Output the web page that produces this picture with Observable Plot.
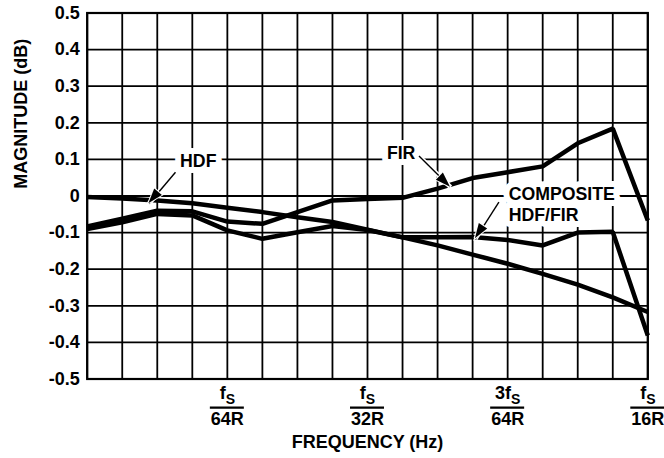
<!DOCTYPE html>
<html>
<head>
<meta charset="utf-8">
<script src="https://cdn.jsdelivr.net/npm/d3@7"></script>
<script src="https://cdn.jsdelivr.net/npm/@observablehq/plot@0.6"></script>
<style>
  html, body { margin: 0; padding: 0; background: #fff; }
  svg { display: block; }
</style>
</head>
<body>
<div id="chart"></div>
<script>
// Frequency index: each unit = fS/256R (gridline positions)
const freq = [0, 1, 2, 3, 4, 5, 6, 7, 8, 9, 10, 11, 12, 13, 14, 15, 16];
const hdf = [-0.003, -0.007, -0.012, -0.020, -0.032, -0.044, -0.058, -0.071, -0.092, -0.113, -0.135, -0.160, -0.185, -0.213, -0.242, -0.277, -0.317];
const fir = [-0.083, -0.062, -0.040, -0.042, -0.070, -0.076, -0.044, -0.012, -0.008, -0.005, 0.020, 0.049, 0.065, 0.081, 0.144, 0.184, -0.067];
const composite = [-0.090, -0.072, -0.049, -0.053, -0.094, -0.117, -0.099, -0.082, -0.093, -0.113, -0.113, -0.112, -0.120, -0.135, -0.100, -0.098, -0.381];

const yTicks = [0.5, 0.4, 0.3, 0.2, 0.1, 0, -0.1, -0.2, -0.3, -0.4, -0.5];
const yTickLabels = ["0.5", "0.4", "0.3", "0.2", "0.1", "0", "-0.1", "-0.2", "-0.3", "-0.4", "-0.5"];
const xTickValues = [4, 8, 12, 16];
const xTickNumerators = ["f", "f", "3f", "f"];
const xTickSubscripts = ["S", "S", "S", "S"];
const xTickDenominators = ["64R", "32R", "64R", "16R"];
const yTitle = "MAGNITUDE (dB)";
const xTitle = "FREQUENCY (Hz)";

const centeredLabels = [
  { text: "HDF", x: 3.17, y: 0.0945 },
  { text: "FIR", x: 8.96, y: 0.1175 }
];
const leftLabels = [
  { text: "COMPOSITE\nHDF/FIR", x: 12.03, y: -0.0208 }
];
const arrows = [
  { x1: 2.52, y1: 0.065, x2: 1.76, y2: -0.021 },
  { x1: 9.47, y1: 0.109, x2: 10.37, y2: 0.024 },
  { x1: 11.75, y1: -0.017, x2: 11.08, y2: -0.117 }
];

const rows = [];
[["HDF", hdf], ["FIR", fir], ["COMPOSITE", composite]].forEach(([name, vals]) => {
  vals.forEach((v, i) => rows.push({ series: name, f: freq[i], v }));
});

const FONT = "'Liberation Sans', Arial, Helvetica, sans-serif";

const chart = Plot.plot({
  width: 664,
  height: 458,
  marginLeft: 86.7,
  marginRight: 16.7,
  marginTop: 12.5,
  marginBottom: 79.5,
  style: { fontFamily: FONT, fontWeight: "bold", fontSize: "18px", background: "#fff", color: "#000" },
  x: { domain: [0, 16] },
  y: { domain: [-0.5, 0.5] },
  marks: [
    Plot.gridX(freq, { stroke: "#000", strokeOpacity: 1, strokeWidth: 1.8 }),
    Plot.gridY(yTicks, { stroke: "#000", strokeOpacity: 1, strokeWidth: 1.8 }),
    Plot.frame({ stroke: "#000", strokeWidth: 2.2 }),
    Plot.axisY(yTicks, {
      tickSize: 0, tickPadding: 7.4, label: null, fontSize: 18, fontWeight: "bold",
      tickFormat: d => yTickLabels[yTicks.indexOf(d)]
    }),
    Plot.axisX(xTickValues, {
      tickSize: 0, tickPadding: 33.7, label: null, fontSize: 18, fontWeight: "bold",
      tickFormat: d => xTickDenominators[xTickValues.indexOf(d)]
    }),
    Plot.text(xTickValues, {
      x: d => d, text: d => xTickNumerators[xTickValues.indexOf(d)],
      frameAnchor: "bottom", dy: 7.7, lineAnchor: "top", textAnchor: "middle",
      fontSize: 18, fontWeight: "bold"
    }),
    Plot.text([yTitle], {
      text: d => d, frameAnchor: "left", dx: -65.8, dy: -7.2, rotate: -90,
      lineAnchor: "middle", fontSize: 18, fontWeight: "bold"
    }),
    Plot.text([xTitle], {
      text: d => d, frameAnchor: "bottom", dy: 63.7,
      lineAnchor: "middle", fontSize: 18, fontWeight: "bold"
    }),
    Plot.text(centeredLabels, {
      x: "x", y: "y", text: "text", textAnchor: "middle", lineAnchor: "middle",
      fontSize: 17.7, fontWeight: "bold", fill: "#000", stroke: "#fff", strokeWidth: 12, strokeLinejoin: "round"
    }),
    Plot.text(leftLabels, {
      x: "x", y: "y", text: "text", textAnchor: "start", lineAnchor: "middle", lineHeight: 1.19,
      fontSize: 17.7, fontWeight: "bold", fill: "#000", stroke: "#fff", strokeWidth: 12, strokeLinejoin: "round"
    }),
    Plot.line(rows, {
      x: "f", y: "v", z: "series", stroke: "#000", strokeWidth: 4.5,
      strokeLinejoin: "miter", strokeLinecap: "butt"
    }),
    Plot.link(arrows, { x1: "x1", y1: "y1", x2: "x2", y2: "y2", stroke: "#fff", strokeWidth: 4.5 }),
    Plot.link(arrows, { x1: "x1", y1: "y1", x2: "x2", y2: "y2", stroke: "#000", strokeWidth: 1.4 })
  ]
});

// Post-processing with the chart's own scales: subscripts, fraction bars, filled arrowheads
const svg = d3.select(chart);
const sx = chart.scale("x");
const sy = chart.scale("y");

svg.selectAll("text").each(function () {
  const t = d3.select(this);
  const idx = xTickNumerators.indexOf(this.textContent);
  if (idx >= 0 && this.childElementCount === 0) {
    t.append("tspan").attr("font-size", 14).attr("dy", 5).text(xTickSubscripts[idx]);
  }
});

const bars = svg.append("g").attr("aria-label", "fraction-bars");
xTickValues.forEach(v => {
  const px = sx.apply(v);
  bars.append("line")
    .attr("x1", px - 17).attr("x2", px + 17)
    .attr("y1", 407.7).attr("y2", 407.7)
    .attr("stroke", "#000").attr("stroke-width", 2.2);
});

const heads = svg.append("g").attr("aria-label", "arrowheads");
arrows.forEach(a => {
  const x1 = sx.apply(a.x1), y1 = sy.apply(a.y1), x2 = sx.apply(a.x2), y2 = sy.apply(a.y2);
  const L = Math.hypot(x2 - x1, y2 - y1), ux = (x2 - x1) / L, uy = (y2 - y1) / L;
  const hl = 15, hw = 5;
  const bx = x2 - ux * hl, by = y2 - uy * hl;
  const pts = [[x2, y2], [bx - uy * hw, by + ux * hw], [bx + uy * hw, by - ux * hw]];
  heads.append("polygon")
    .attr("points", pts.map(p => p.join(",")).join(" "))
    .attr("fill", "#000").attr("stroke", "#fff").attr("stroke-width", 2)
    .attr("paint-order", "stroke").attr("stroke-linejoin", "miter");
});

document.getElementById("chart").appendChild(chart);
</script>
</body>
</html>
